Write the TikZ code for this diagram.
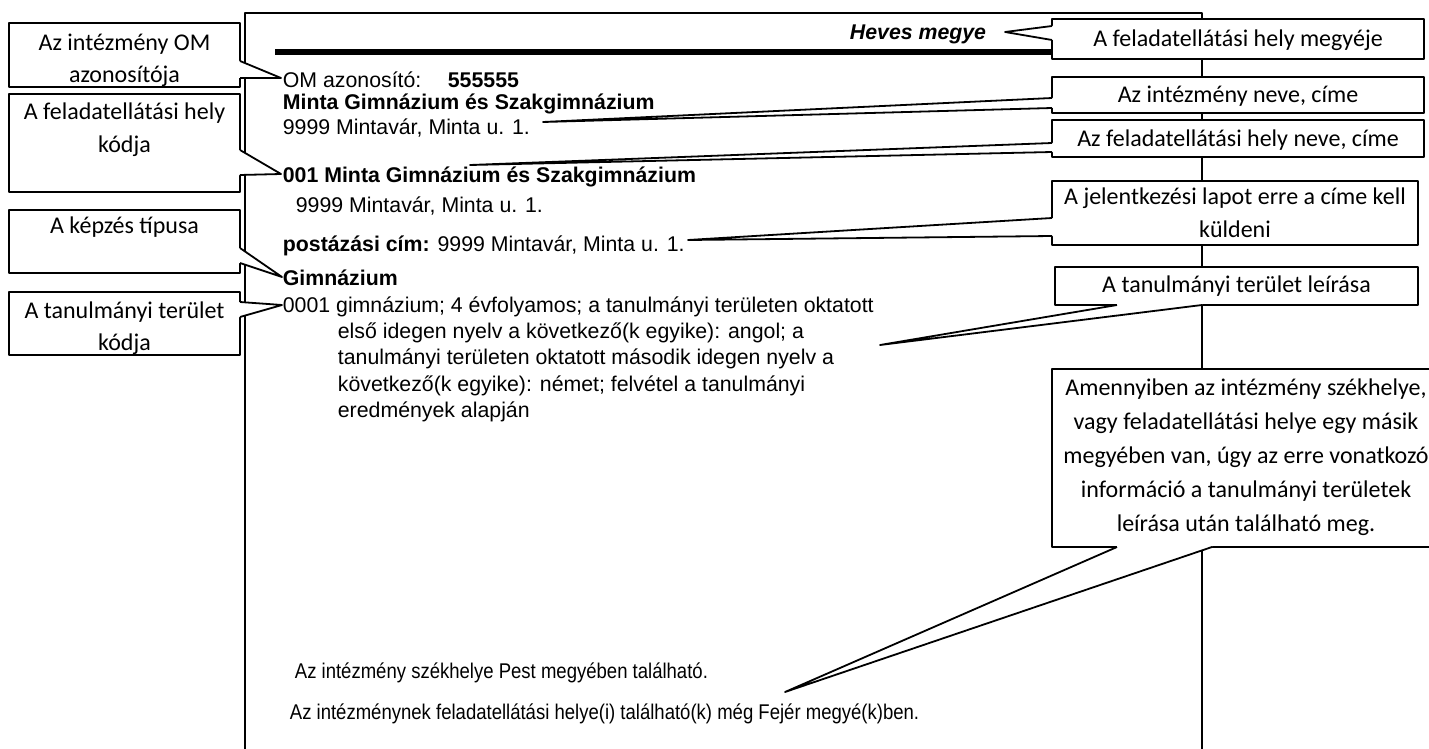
\documentclass[tikz,border=0pt]{standalone}
\usepackage{fontspec}
\setmainfont{Liberation Sans}
\newfontfamily\calfont{Carlito}
\newfontfamily\narrowfont[FakeStretch=0.87]{Liberation Sans}
\usetikzlibrary{calc}
\newcommand{\callptr}[4]{%
  \fill[white] ($(#1)+(#4)$) -- (#1) -- (#2) -- (#3) -- ($(#3)+(#4)$) -- cycle;
  \draw (#1) -- (#2) -- (#3);}
\begin{document}
\begin{tikzpicture}[x=1pt,y=-1pt, line width=1.8pt, line join=round,
  cbox/.style={draw, fill=white, inner sep=0pt},
  ctext/.style={font=\calfont\fontsize{24}{28}\selectfont, text height=15.5pt, text depth=0pt, inner sep=0pt, anchor=center},
  btext/.style={font=\fontsize{21.3}{26}\selectfont, text height=15.25pt, text depth=0pt, inner sep=0pt, anchor=west},
  bbold/.style={btext, font=\bfseries\fontsize{21.3}{26}\selectfont},
  ntext/.style={font=\narrowfont\fontsize{21.3}{26}\selectfont, text height=15.25pt, text depth=0pt, inner sep=0pt, anchor=west}]
\useasboundingbox (0,0) rectangle (1429,749);
\fill[white] (0,0) rectangle (1429,749);
% page frame
\coordinate (fbl) at (245,770);
\coordinate (ftl) at (245,13);
\coordinate (ftr) at (1202,13);
\coordinate (fbr) at (1202,770);
\draw (fbl) -- (ftl) -- (ftr) -- (fbr);
% heading rule
\fill (275,49) rectangle (1100,55);
\node[font=\fontsize{21.3}{26}\selectfont\bfseries\itshape, anchor=east, inner sep=0pt, text height=15.25pt, text depth=0pt] (heves) at (987,32) {Heves megye};
% body text
\node[btext] (om) at (282,80) {OM azonosító:};
\node[bbold] (omnum) at (447,80) {555555};
\node[bbold] (inst) at (282,102) {Minta Gimnázium és Szakgimnázium};
\node[btext] (instaddr) at (282,127) {9999 Mintavár, Minta u. 1.};
\node[bbold] (site) at (282,175) {001 Minta Gimnázium és Szakgimnázium};
\node[btext] (siteaddr) at (295,205) {9999 Mintavár, Minta u. 1.};
\node[btext] (post) at (282,244) {\textbf{postázási cím:} 9999 Mintavár, Minta u. 1.};
\node[bbold] (type) at (282,278) {Gimnázium};
\node[btext] (ta1) at (282,305) {0001 gimnázium; 4 évfolyamos; a tanulmányi területen oktatott};
\node[btext] (ta2) at (337,331) {első idegen nyelv a következő(k egyike): angol; a};
\node[btext] (ta3) at (337,357) {tanulmányi területen oktatott második idegen nyelv a};
\node[btext] (ta4) at (337,384) {következő(k egyike): német; felvétel a tanulmányi};
\node[btext] (ta5) at (337,410) {eredmények alapján};
\node[ntext] (seat) at (294,671) {Az intézmény székhelye Pest megyében található.};
\node[ntext] (other) at (289,712) {Az intézménynek feladatellátási helye(i) található(k) még Fejér megyé(k)ben.};
% pointer tips
\coordinate (tL1) at (281,78);
\coordinate (tL2) at (281,174);
\coordinate (tL3) at (282,277);
\coordinate (tL4) at (282,305);
\coordinate (tR1) at (1005,32);
\coordinate (tR2) at (543,122);
\coordinate (tR3) at (470,165);
\coordinate (tR4) at (688,240);
\coordinate (tR5) at (880,345);
\coordinate (tR6) at (785,692);
% left callouts
\node[cbox, minimum width=231, minimum height=64] (L1) at (124.5,55) {};
\callptr{240,61}{tL1}{240,78}{-3,0}
\node[cbox, minimum width=231, minimum height=98] (L2) at (124.5,143) {};
\callptr{240,150}{tL2}{240,175}{-3,0}
\node[cbox, minimum width=231, minimum height=63] (L3) at (124.5,241.5) {};
\callptr{240,248}{tL3}{240,263}{-3,0}
\node[cbox, minimum width=231, minimum height=63] (L4) at (124.5,323.5) {};
\callptr{240,302}{tL4}{240,317}{-3,0}
% right callouts
\node[cbox, minimum width=372, minimum height=40] (R1) at (1238,39) {};
\callptr{1052,26}{tR1}{1052,40}{3,0}
\node[cbox, minimum width=372, minimum height=36] (R2) at (1238,95) {};
\callptr{1052,98}{tR2}{1052,108}{3,0}
\node[cbox, minimum width=372, minimum height=37] (R3) at (1238,138.5) {};
\callptr{1052,143}{tR3}{1052,152}{3,0}
\node[cbox, minimum width=366, minimum height=64] (R4) at (1235,213) {};
\callptr{1052,218}{tR4}{1052,236}{3,0}
\node[cbox, minimum width=363, minimum height=38] (R5) at (1236.5,286) {};
\callptr{1117,305}{tR5}{1202,305}{0,-3}
\node[cbox, minimum width=388, minimum height=178] (R6) at (1246,458) {};
\callptr{1117,547}{tR6}{1212,547}{0,-3}
% callout texts
\node[ctext] (L1a) at (124.5,43) {Az intézmény OM};
\node[ctext] (L1b) at (124.5,75) {azonosítója};
\node[ctext] (L2a) at (124.5,112) {A feladatellátási hely};
\node[ctext] (L2b) at (124.5,145) {kódja};
\node[ctext] (L3a) at (124.5,226) {A képzés típusa};
\node[ctext] (L4a) at (124.5,311) {A tanulmányi terület};
\node[ctext] (L4b) at (124.5,343) {kódja};
\node[ctext] (R1a) at (1238,39) {A feladatellátási hely megyéje};
\node[ctext] (R2a) at (1238,95) {Az intézmény neve, címe};
\node[ctext] (R3a) at (1238,138.5) {Az feladatellátási hely neve, címe};
\node[ctext] (R4a) at (1235,197) {A jelentkezési lapot erre a címe kell};
\node[ctext] (R4b) at (1235,230) {küldeni};
\node[ctext] (R5a) at (1236.5,285) {A tanulmányi terület leírása};
\node[ctext] (R6a) at (1246,388) {Amennyiben az intézmény székhelye,};
\node[ctext] (R6b) at (1246,422) {vagy feladatellátási helye egy másik};
\node[ctext] (R6c) at (1246,456) {megyében van, úgy az erre vonatkozó};
\node[ctext] (R6d) at (1246,490) {információ a tanulmányi területek};
\node[ctext] (R6e) at (1246,524) {leírása után található meg.};
\end{tikzpicture}
\end{document}
